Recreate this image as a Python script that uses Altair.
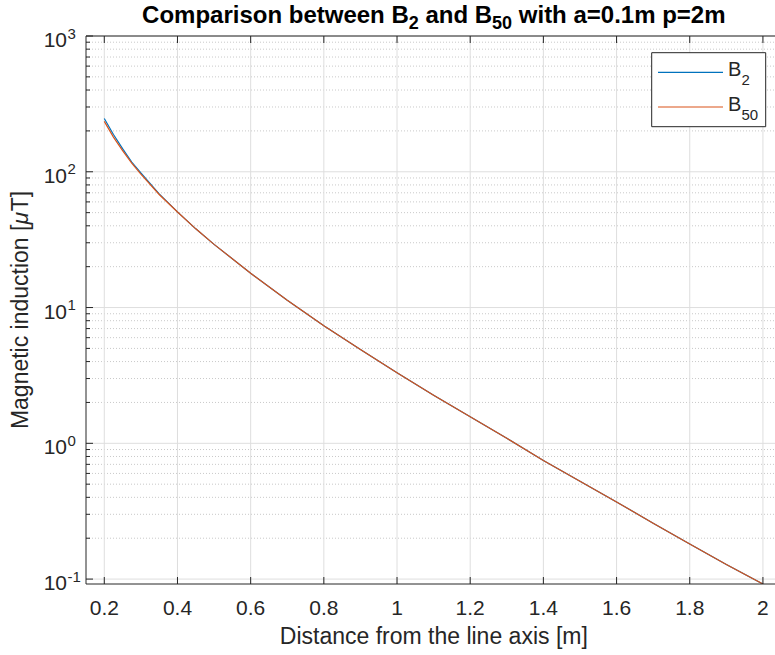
import altair as alt
import pandas as pd

# ---------------- data ----------------
x_vals = [0.2, 0.225, 0.25, 0.275, 0.3, 0.35, 0.4, 0.45, 0.5, 0.6, 0.7, 0.8, 0.9,
          1.0, 1.1, 1.2, 1.3, 1.4, 1.5, 1.6, 1.7, 1.8, 1.9, 2.0]
b2_vals = [247, 188, 148, 118, 98, 68.8, 50.7, 38.0, 29.2, 17.9, 11.3, 7.35, 4.9,
           3.31, 2.26, 1.57, 1.09, 0.746, 0.525, 0.37, 0.258, 0.181, 0.128, 0.092]
b50_vals = [235, 180, 143, 116, 96, 68.0, 50.5, 38.0, 29.2, 17.9, 11.3, 7.35, 4.9,
            3.31, 2.26, 1.57, 1.09, 0.746, 0.525, 0.37, 0.258, 0.181, 0.128, 0.092]
series_names = ["B2", "B50"]
series_colors = ["#0072BD", "#D95319"]

x_ticks = [0.2, 0.4, 0.6, 0.8, 1.0, 1.2, 1.4, 1.6, 1.8, 2.0]
x_tick_labels = ["0.2", "0.4", "0.6", "0.8", "1", "1.2", "1.4", "1.6", "1.8", "2"]
y_decades = [-1, 0, 1, 2, 3]
y_major = [10.0 ** k for k in y_decades]
y_minor = [m * 10.0 ** k for k in range(-1, 3) for m in range(2, 10)]

title_parts = ["Comparison between B", "2", " and B", "50", " with a=0.1m p=2m"]
x_title = "Distance from the line axis [m]"
y_title_parts = ["Magnetic induction [", "\u03bc", "T]"]

# ---------------- layout ----------------
W, H = 689, 548
XD = [0.15, 2.033]
YD = [0.092, 1000]
FONT = "Liberation Sans"
AX = "#262626"
TICK_FS = 21
LAB_FS = 23

xs = alt.Scale(domain=XD, nice=False, zero=False)
ys = alt.Scale(type="log", domain=YD, nice=False)

df = pd.DataFrame({
    "x": x_vals * 2,
    "y": b2_vals + b50_vals,
    "series": [series_names[0]] * len(x_vals) + [series_names[1]] * len(x_vals),
})

one = pd.DataFrame({"a": [0]})

# Arial-metric widths (per 1000 em) to place text pieces
AW = {' ': 278, 'C': 722, 'o': 611, 'm': 889, 'p': 611, 'a': 556, 'r': 389, 'i': 278, 's': 556,
      'n': 611, 'b': 611, 'e': 556, 't': 333, 'w': 778, 'B': 722, 'd': 611, 'h': 611, '=': 584, '.': 278}
AR = {' ': 278, 'M': 833, 'a': 556, 'g': 556, 'n': 556, 'e': 556, 't': 278, 'i': 222, 'c': 500,
      'd': 556, 'u': 556, 'o': 556, '[': 278, ']': 278, 'T': 611, '\u03bc': 576}


def bw(s, size, table=AW):
    return sum(table.get(c, 556) for c in s) * size / 1000.0


def txt(text, x, y, size, weight="normal", align="left", baseline="alphabetic", angle=0, style="normal"):
    return alt.Chart(one).mark_text(
        text=text, font=FONT, fontSize=size, fontWeight=weight, align=align,
        baseline=baseline, angle=angle, color="#000000" if weight == "bold" else AX, fontStyle=style
    ).encode(x=alt.value(x), y=alt.value(y))


def rule_x(vals, y1, y2, **kw):
    return alt.Chart(pd.DataFrame({"v": vals})).mark_rule(**kw).encode(
        x=alt.X("v:Q", scale=xs, axis=None), y=alt.value(y1), y2=alt.value(y2))


def rule_y(vals, x1, x2, **kw):
    return alt.Chart(pd.DataFrame({"v": vals})).mark_rule(**kw).encode(
        y=alt.Y("v:Q", scale=ys, axis=None), x=alt.value(x1), x2=alt.value(x2))


layers = []
# grids
layers.append(rule_y(y_minor, 0, W, color="#c9c9c9", strokeDash=[1, 2], strokeWidth=1))
layers.append(rule_y(y_major, 0, W, color="#dedede", strokeWidth=1))
layers.append(rule_x(x_ticks, 0, H, color="#dedede", strokeWidth=1))

# data lines
layers.append(alt.Chart(df).mark_line(strokeWidth=1.2, clip=True).encode(
    x=alt.X("x:Q", scale=xs, axis=None),
    y=alt.Y("y:Q", scale=ys, axis=None),
    color=alt.Color("series:N", scale=alt.Scale(domain=series_names, range=series_colors), legend=None),
))

# axis lines
layers.append(alt.Chart(one).mark_rule(color=AX, strokeWidth=1).encode(x=alt.value(0), x2=alt.value(W), y=alt.value(H)))
layers.append(alt.Chart(one).mark_rule(color=AX, strokeWidth=1).encode(x=alt.value(0), x2=alt.value(W), y=alt.value(0)))
layers.append(alt.Chart(one).mark_rule(color=AX, strokeWidth=1).encode(x=alt.value(0), y=alt.value(0), y2=alt.value(H)))

# ticks (inside)
layers.append(rule_x(x_ticks, H, H - 7, color=AX, strokeWidth=1))
layers.append(rule_x(x_ticks, 0, 7, color=AX, strokeWidth=1))
layers.append(rule_y(y_major, 0, 7, color=AX, strokeWidth=1))
layers.append(rule_y(y_minor, 0, 4, color=AX, strokeWidth=1))

# x tick labels
layers.append(alt.Chart(pd.DataFrame({"v": x_ticks, "t": x_tick_labels})).mark_text(
    font=FONT, fontSize=TICK_FS, align="center", baseline="alphabetic", color=AX
).encode(x=alt.X("v:Q", scale=xs, axis=None), y=alt.value(579), text="t:N"))

# y tick labels 10^k
ydf = pd.DataFrame({"v": y_major, "e": [str(k) for k in y_decades]})
layers.append(alt.Chart(ydf).mark_text(
    font=FONT, fontSize=TICK_FS, align="right", baseline="alphabetic", dy=11, color=AX, text="10"
).encode(y=alt.Y("v:Q", scale=ys, axis=None), x=alt.value(-19)))
layers.append(alt.Chart(ydf).mark_text(
    font=FONT, fontSize=15, align="left", baseline="alphabetic", dy=2.5, color=AX
).encode(y=alt.Y("v:Q", scale=ys, axis=None), x=alt.value(-18.5), text="e:N"))

# x axis title
layers.append(txt(x_title, 347.8, 608, LAB_FS, align="center"))

# y axis title (rotated, with italic mu)
ytot = sum(bw(p, LAB_FS, AR) for p in y_title_parts)
yy = 274 + ytot / 2
for p, st in zip(y_title_parts, ["normal", "italic", "normal"]):
    layers.append(txt(p, -58, yy, LAB_FS, align="left", angle=270, style=st))
    yy -= bw(p, LAB_FS, AR)

# title with subscripts (leading spaces are trimmed by Vega, so advance x instead)
TF = 24
SF = 18
sizes = [TF, SF, TF, SF, TF]
shifts = [0, 6, 0, 6, 0]
total = sum(bw(p, s) for p, s in zip(title_parts, sizes))
cx = 347.8 - total / 2
for p, s, sh in zip(title_parts, sizes, shifts):
    lead = len(p) - len(p.lstrip(" "))
    body = p.strip(" ")
    layers.append(txt(body, cx + bw(" " * lead, s), -13 + sh, s, weight="bold"))
    cx += bw(p, s)

# legend
layers.append(alt.Chart(one).mark_rect(fill="white", stroke=AX, strokeWidth=1).encode(
    x=alt.value(565.7), x2=alt.value(679.7), y=alt.value(16.7), y2=alt.value(90.7)))
for c, ly in zip(series_colors, [36.3, 71.0]):
    layers.append(alt.Chart(one).mark_rule(color=c, strokeWidth=1.2).encode(
        x=alt.value(572), x2=alt.value(637), y=alt.value(ly)))
layers.append(txt("B", 642, 39.5, 20))
layers.append(txt("2", 655.5, 49, 15))
layers.append(txt("B", 642, 74.5, 20))
layers.append(txt("50", 655.5, 84, 15))

chart = alt.layer(*layers).properties(
    width=W, height=H,
    padding={"left": 86, "top": 36, "right": 0, "bottom": 71},
    autosize=alt.AutoSizeParams(type="none"),
    background="white",
).configure_view(stroke=None)

chart.save("out.html", embed_options={"renderer": "svg", "actions": False})
